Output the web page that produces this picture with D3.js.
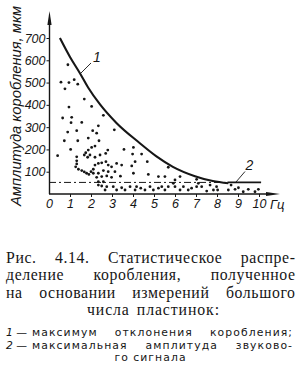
<!DOCTYPE html>
<html>
<head>
<meta charset="utf-8">
<script src="https://cdn.jsdelivr.net/npm/d3@7/dist/d3.min.js"></script>
<style>
body{margin:0;background:#fff}
svg{display:block}
</style>
</head>
<body>
<div id="chart"></div>
<script>
// scatter of measured plates (frequency, Hz ; warp amplitude, um)
var pointX = [0.9,0.57,0.95,1.2,1.37,0.76,1.68,0.95,2.03,0.65,1.08,2.59,1.05,1.56,2.35,3.11,0.89,1.32,2.08,2.27,1.87,0.73,1.37,2.38,
  2.19,1.03,0.41,2.03,1.87,1.75,1.68,1.95,1.84,2.19,2.43,2.7,2.8,1.32,1.32,1.32,1.27,1.4,1.56,1.68,1.79,1.9,2.0,2.11,2.19,2.35,2.51,2.71,2.82,2.98,3.22,
  2.11,2.35,2.59,2.82,3.14,2.27,2.51,2.75,2.98,3.4,2.35,2.59,2.35,2.51,2.75,2.67,3.06,3.22,3.46,
  3.57,4.02,3.98,4.41,4.1,3.94,4.68,3.46,4.02,4.73,5.21,5.52,5.68,6.0,6.24,
  3.62,3.86,4.1,4.17,4.37,4.57,4.81,4.97,5.21,5.37,5.52,5.68,5.92,6.0,6.24,6.4,6.63,6.79,7.03,7.03,7.11,7.27,7.51,7.67,7.83,7.98,8.03,
  8.54,8.67,8.86,9.02,9.25,9.49,9.81,9.97];
var pointY = [580,502,500,513,493,472,426,390,393,341,344,353,320,321,306,288,278,284,284,273,251,239,239,239,
  215,200,172,209,197,185,175,175,165,165,175,182,197,167,149,135,122,111,105,99,93,88,100,111,130,137,140,145,130,122,137,
  93,93,105,100,100,75,78,81,75,80,55,55,40,36,33,18,33,18,28,
  200,209,179,179,145,126,145,130,93,88,78,78,120,63,78,
  18,33,18,33,26,18,33,18,26,33,18,33,48,33,18,33,18,26,33,66,48,33,13,40,18,33,18,
  18,40,21,28,10,21,10,21];

// curve 1: maximum warp deviation
var curveX = [0.52,1.0,1.48,1.87,2.43,3.2,4.3,5.1,5.9,6.95,7.8,8.54];
var curveY = [700,615,541,477,402,320,230,170,122,80,58,48];

// curve 2: max amplitude of the sound signal
var limitX = [0, 8.5, 10.1];
var limitY = 52;

var xTicks = [0,1,2,3,4,5,6,7,8,9,10];
var yTicks = [100,200,300,400,500,600,700];

var captionLines = ["Рис. 4.14. Статистическое распре-", "деление коробления, полученное",
  "на основании измерений большого", "числа пластинок:"];
var legendKeys = ["1 —", "2 —"];
var legendLines = ["максимум отклонения коробления;", "максимальная амплитуда звуково-", "го сигнала"];

var ink = "#161616";

var svg = d3.select("#chart").append("svg")
  .attr("width", 300)
  .attr("height", 365);

var x = d3.scaleLinear().domain([0, 10]).range([49, 259]);
var y = d3.scaleLinear().domain([0, 700]).range([194, 38]);

var g = svg.append("g");

// axes with arrows
g.append("line").attr("x1", 49.5).attr("x2", 49.5).attr("y1", 194).attr("y2", 20)
  .attr("stroke", ink).attr("stroke-width", 1.4);
g.append("path").attr("d", "M49.5,11 L47.4,25 L51.6,25 Z").attr("fill", ink);
g.append("line").attr("x1", 49).attr("x2", 272).attr("y1", 194).attr("y2", 194)
  .attr("stroke", ink).attr("stroke-width", 1.4);
g.append("path").attr("d", "M280,194 L266,191.9 L266,196.1 Z").attr("fill", ink);

var xaxis = d3.axisBottom(x).tickValues(xTicks).tickSize(3).tickPadding(2).tickFormat(d3.format("d"));
var yaxis = d3.axisLeft(y).tickValues(yTicks).tickSize(3).tickPadding(1).tickFormat(d3.format("d"));

var gx = g.append("g").attr("transform", "translate(0,194)").call(xaxis);
var gy = g.append("g").attr("transform", "translate(49.5,0)").call(yaxis);
[gx, gy].forEach(function(a) {
  a.select(".domain").remove();
  a.selectAll("line").attr("stroke", ink).attr("stroke-width", 1);
  a.selectAll("text").attr("fill", ink)
    .style("font-family", "'Liberation Sans', Arial, sans-serif")
    .style("font-style", "italic").style("font-size", "12.5px");
});
gx.selectAll(".tick").filter(function(d) { return d === 0; }).select("line").remove();

g.append("text").attr("x", 270).attr("y", 208.5)
  .style("font-family", "'Liberation Sans', Arial, sans-serif")
  .style("font-style", "italic").style("font-size", "13px")
  .attr("fill", ink).text("Гц");

g.append("text")
  .attr("transform", "translate(21,106) rotate(-90)")
  .attr("text-anchor", "middle")
  .attr("textLength", 200).attr("lengthAdjust", "spacingAndGlyphs")
  .style("font-family", "'Liberation Sans', Arial, sans-serif")
  .style("font-style", "italic").style("font-size", "14px")
  .attr("fill", ink).text("Амплитуда коробления, мкм");

// dash-dot limit line (2)
g.append("line")
  .attr("x1", x(limitX[0])).attr("x2", x(limitX[1]))
  .attr("y1", y(limitY)).attr("y2", y(limitY))
  .attr("stroke", ink).attr("stroke-width", 1)
  .attr("stroke-dasharray", "7,3,2,3");
g.append("line")
  .attr("x1", x(limitX[1])).attr("x2", x(limitX[2]))
  .attr("y1", y(limitY)).attr("y2", y(limitY))
  .attr("stroke", ink).attr("stroke-width", 1.6);

// scatter
g.selectAll("circle").data(pointX)
  .enter().append("circle")
  .attr("cx", function(d) { return x(d); })
  .attr("cy", function(d, i) { return y(pointY[i]); })
  .attr("r", 1.4)
  .attr("fill", ink);

// curve 1
var line = d3.line()
  .x(function(d) { return x(d); })
  .y(function(d, i) { return y(curveY[i]); })
  .curve(d3.curveMonotoneX);
g.append("path").attr("d", line(curveX))
  .attr("fill", "none").attr("stroke", ink).attr("stroke-width", 2.1);

// callouts
g.append("line").attr("x1", 81).attr("y1", 73).attr("x2", 91).attr("y2", 63)
  .attr("stroke", ink).attr("stroke-width", 0.9);
g.append("text").attr("x", 97).attr("y", 62).attr("text-anchor", "middle")
  .style("font-family", "'Liberation Sans', Arial, sans-serif")
  .style("font-style", "italic").style("font-size", "14px")
  .attr("fill", ink).text("1");
g.append("line").attr("x1", 236).attr("y1", 182).attr("x2", 245).attr("y2", 171.5)
  .attr("stroke", ink).attr("stroke-width", 0.9);
g.append("text").attr("x", 249.5).attr("y", 169.5).attr("text-anchor", "middle")
  .style("font-family", "'Liberation Sans', Arial, sans-serif")
  .style("font-style", "italic").style("font-size", "14px")
  .attr("fill", ink).text("2");

// caption: justified lines built word by word
function justify(str, yPos, font, size, spacing, left, right, centre) {
  var words = str.split(" ");
  var nodes = words.map(function(w) {
    return svg.append("text").attr("y", yPos)
      .style("font-family", font).style("font-size", size + "px")
      .style("letter-spacing", spacing + "px")
      .attr("fill", ink).text(w);
  });
  var widths = nodes.map(function(n) { return n.node().getComputedTextLength() - spacing; });
  var total = d3.sum(widths);
  if (centre !== undefined) {
    var gap = size * 0.5;
    var cx = centre - (total + gap * (words.length - 1)) / 2;
    nodes.forEach(function(n, i) { n.attr("x", cx); cx += widths[i] + gap; });
    return nodes;
  }
  var gap2 = (right - left - total) / (words.length - 1);
  var px = left;
  nodes.forEach(function(n, i) { n.attr("x", px); px += widths[i] + gap2; });
  return nodes;
}

var serif = "'Liberation Serif', 'Times New Roman', serif";
var sans = "'DejaVu Sans', 'Liberation Sans', sans-serif";
justify(captionLines[0], 262.5, serif, 15.8, 0.6, 6, 295);
justify(captionLines[1], 280, serif, 15.8, 0.6, 6, 295);
justify(captionLines[2], 297.5, serif, 15.8, 0.6, 6, 295);
justify(captionLines[3], 315, serif, 15.8, 0.9, 0, 0, 153);

legendKeys.forEach(function(k, i) {
  svg.append("text").attr("x", 6).attr("y", [336, 348.5][i])
    .style("font-family", sans).style("font-size", "10.8px")
    .attr("fill", ink).attr("xml:space", "preserve")
    .html("<tspan font-style='italic'>" + k.split(" ")[0] + "</tspan> " + k.split(" ")[1]);
});
justify(legendLines[0], 336, sans, 10.8, 1.1, 32, 292);
justify(legendLines[1], 348.5, sans, 10.8, 1.1, 32, 292);
justify(legendLines[2], 361, sans, 10.8, 1.1, 0, 0, 150);
</script>
</body>
</html>
